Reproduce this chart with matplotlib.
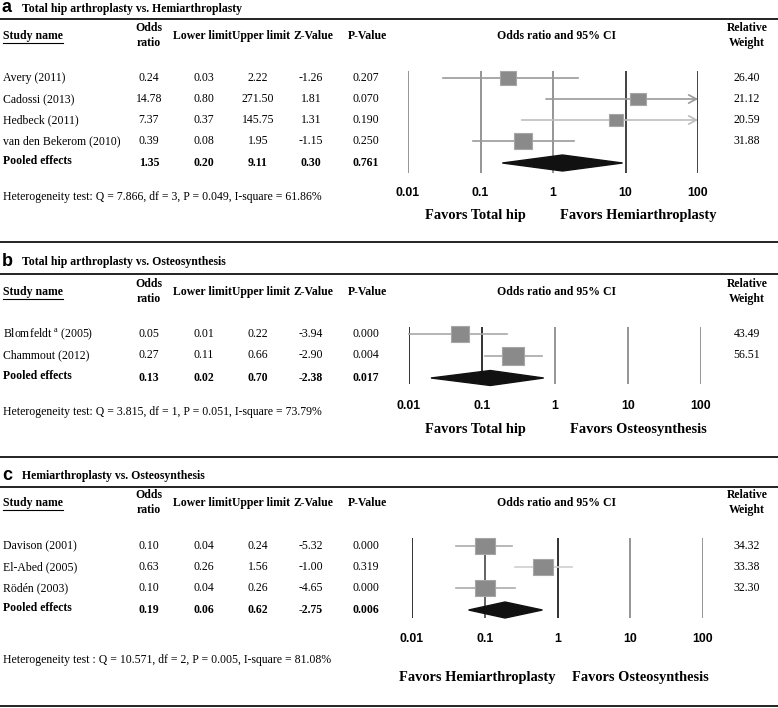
import matplotlib
matplotlib.use("Agg")
import matplotlib.pyplot as plt
import numpy as np

plt.rcParams['font.family'] = ['Liberation Serif', 'DejaVu Serif']
plt.rcParams['mathtext.fontset'] = 'custom'
plt.rcParams['mathtext.rm'] = 'Liberation Serif'
plt.rcParams['mathtext.it'] = 'Liberation Serif:italic'
plt.rcParams['mathtext.bf'] = 'Liberation Serif:bold'

# ---------------- data ----------------
tick_values = [0.01, 0.1, 1, 10, 100]
tick_labels = ['0.01', '0.1', '1', '10', '100']

# Panel a
title_a = 'Total hip arthroplasty vs. Hemiarthroplasty'
studies_a = ['Avery (2011)', 'Cadossi (2013)', 'Hedbeck (2011)', 'van den Bekerom (2010)']
or_a = [0.24, 14.78, 7.37, 0.39]
lo_a = [0.03, 0.80, 0.37, 0.08]
hi_a = [2.22, 271.50, 145.75, 1.95]
z_a = [-1.26, 1.81, 1.31, -1.15]
p_a = [0.207, 0.070, 0.190, 0.250]
w_a = [26.40, 21.12, 20.59, 31.88]
pooled_a = [1.35, 0.20, 9.11, 0.30, 0.761]
het_a = 'Heterogeneity test: Q = 7.866, df = 3, P = 0.049, I-square = 61.86%'
favors_a = ['Favors Total hip', 'Favors Hemiarthroplasty']

# Panel b
title_b = 'Total hip arthroplasty vs. Osteosynthesis'
studies_b = ['Blomfeldt $^{\\mathrm{a}}$ (2005)', 'Chammout (2012)']
or_b = [0.05, 0.27]
lo_b = [0.01, 0.11]
hi_b = [0.22, 0.66]
z_b = [-3.94, -2.90]
p_b = [0.000, 0.004]
w_b = [43.49, 56.51]
pooled_b = [0.13, 0.02, 0.70, -2.38, 0.017]
het_b = 'Heterogeneity test: Q = 3.815, df = 1, P = 0.051, I-square = 73.79%'
favors_b = ['Favors Total hip', 'Favors Osteosynthesis']

# Panel c
title_c = 'Hemiarthroplasty vs. Osteosynthesis'
studies_c = ['Davison (2001)', 'El-Abed (2005)', 'Rödén (2003)']
or_c = [0.10, 0.63, 0.10]
lo_c = [0.04, 0.26, 0.04]
hi_c = [0.24, 1.56, 0.26]
z_c = [-5.32, -1.00, -4.65]
p_c = [0.000, 0.319, 0.000]
w_c = [34.32, 33.38, 32.30]
pooled_c = [0.19, 0.06, 0.62, -2.75, 0.006]
het_c = 'Heterogeneity test : Q = 10.571, df = 2, P = 0.005, I-square = 81.08%'
favors_c = ['Favors Hemiarthroplasty', 'Favors Osteosynthesis']

# ---------------- layout / style ----------------
W, H = 778, 708
fig = plt.figure(figsize=(W / 100, H / 100), dpi=100)
bg = fig.add_axes([0, 0, 1, 1])
bg.set_xlim(0, W)
bg.set_ylim(H, 0)
bg.axis('off')

FS = 8.5
SANS = ['Liberation Sans', 'DejaVu Sans']

panels = [
    dict(letter='a', title=title_a, studies=studies_a, orv=or_a, lo=lo_a, hi=hi_a, z=z_a, p=p_a, w=w_a,
         pooled=pooled_a, het=het_a, favors=favors_a,
         top_line=None, title_y=8, rule_y=19, head_y=36, row0=78, dy=21, het_y=197,
         gx=(408, 698), gy=(71, 173), tick_y=193, fav_y=215, fav_x=(475, 638), diam_h=8, sq_k=3.3,
         grid_cols=['#8c8c8c', '#8c8c8c', '#8c8c8c', '#333333', '#333333'],
         ci_cols=['#9a9a9a', '#9a9a9a', '#bdbdbd', '#9a9a9a']),
    dict(letter='b', title=title_b, studies=studies_b, orv=or_b, lo=lo_b, hi=hi_b, z=z_b, p=p_b, w=w_b,
         pooled=pooled_b, het=het_b, favors=favors_b,
         top_line=242, title_y=261, rule_y=274, head_y=292, row0=334, dy=21.5, het_y=412,
         gx=(409, 701), gy=(327, 384), tick_y=406, fav_y=429, fav_x=(475, 638), diam_h=7.5, sq_k=2.8,
         grid_cols=['#222222', '#222222', '#8c8c8c', '#8c8c8c', '#8c8c8c'],
         ci_cols=['#a8a8a8', '#a8a8a8']),
    dict(letter='c', title=title_c, studies=studies_c, orv=or_c, lo=lo_c, hi=hi_c, z=z_c, p=p_c, w=w_c,
         pooled=pooled_c, het=het_c, favors=favors_c,
         top_line=457, title_y=475, rule_y=487, head_y=503, row0=546, dy=21, het_y=660,
         gx=(412, 703), gy=(538, 618), tick_y=639, fav_y=677, fav_x=(477, 640), diam_h=8, sq_k=3.4,
         grid_cols=['#222222', '#555555', '#222222', '#8c8c8c', '#8c8c8c'],
         ci_cols=['#ababab', '#cfcfcf', '#ababab']),
]

col_x = [149, 204, 258, 311, 366]

for P in panels:
    if P['top_line'] is not None:
        bg.plot([0, W], [P['top_line']] * 2, color='#111111', lw=1.3, solid_capstyle='butt')
    bg.plot([0, W], [P['rule_y']] * 2, color='#111111', lw=1.3, solid_capstyle='butt')
    bg.text(2, P['title_y'], P['letter'], family=SANS, fontweight='bold', fontsize=13,
            ha='left', va='center')
    bg.text(22, P['title_y'] + 1, P['title'], fontweight='bold', fontsize=FS, ha='left', va='center')

    hy = P['head_y']
    bg.text(3, hy, 'Study name', fontweight='bold', fontsize=FS, ha='left', va='center')
    bg.plot([3, 63], [hy + 6.5] * 2, color='black', lw=0.8)
    bg.text(col_x[0], hy - 8, 'Odds', fontweight='bold', fontsize=FS, ha='center', va='center')
    bg.text(col_x[0], hy + 7, 'ratio', fontweight='bold', fontsize=FS, ha='center', va='center')
    bg.text(232, hy, 'Lower limit', fontweight='bold', fontsize=FS, ha='right', va='center')
    bg.text(232, hy, 'Upper limit', fontweight='bold', fontsize=FS, ha='left', va='center')
    bg.text(313, hy, 'Z-Value', fontweight='bold', fontsize=FS, ha='center', va='center')
    bg.text(367, hy, 'P-Value', fontweight='bold', fontsize=FS, ha='center', va='center')
    bg.text(557, hy, 'Odds ratio and 95% CI', fontweight='bold', fontsize=FS, ha='center', va='center')
    bg.text(747, hy - 8, 'Relative', fontweight='bold', fontsize=FS, ha='center', va='center')
    bg.text(747, hy + 7, 'Weight', fontweight='bold', fontsize=FS, ha='center', va='center')

    n = len(P['studies'])
    rows_y = [P['row0'] + i * P['dy'] for i in range(n)]
    pooled_y = P['row0'] + n * P['dy'] + 1
    for i in range(n):
        y = rows_y[i]
        bg.text(3, y, P['studies'][i], fontsize=FS, ha='left', va='center')
        vals = ['%.2f' % P['orv'][i], '%.2f' % P['lo'][i], '%.2f' % P['hi'][i],
                '%.2f' % P['z'][i], '%.3f' % P['p'][i]]
        for cx, v in zip(col_x, vals):
            bg.text(cx, y, v, fontsize=FS, ha='center', va='center')
        bg.text(747, y, '%.2f' % P['w'][i], fontsize=FS, ha='center', va='center')
    pv = P['pooled']
    bg.text(3, pooled_y - 2, 'Pooled effects', fontweight='bold', fontsize=FS, ha='left', va='center')
    pvals = ['%.2f' % pv[0], '%.2f' % pv[1], '%.2f' % pv[2], '%.2f' % pv[3], '%.3f' % pv[4]]
    for cx, v in zip(col_x, pvals):
        bg.text(cx, pooled_y, v, fontweight='bold', fontsize=FS, ha='center', va='center')
    bg.text(3, P['het_y'], P['het'], fontsize=FS, ha='left', va='center')

    # forest axes
    x0, x1 = P['gx']
    y0, y1 = P['gy']
    ax = fig.add_axes([x0 / W, 1 - y1 / H, (x1 - x0) / W, (y1 - y0) / H])
    ax.set_xscale('log')
    ax.set_xlim(tick_values[0], tick_values[-1])
    ax.set_ylim(y1, y0)
    ax.patch.set_alpha(0)
    for s in ax.spines.values():
        s.set_visible(False)
    ax.set_yticks([])
    ax.set_xticks(tick_values)
    ax.set_xticklabels(tick_labels)
    ax.minorticks_off()
    ax.tick_params(axis='x', length=0, pad=(P['tick_y'] - y1 - 6) * 0.72)
    for lab in ax.get_xticklabels():
        lab.set_family(SANS)
        lab.set_fontweight('bold')
        lab.set_fontsize(8.8)
    for tv, c in zip(tick_values, P['grid_cols']):
        ax.axvline(tv, color=c, lw=1.3, zorder=1)

    for i in range(n):
        y = rows_y[i]
        lo, hi = P['lo'][i], P['hi'][i]
        c = P['ci_cols'][i]
        if hi > tick_values[-1]:
            ax.annotate('', xy=(tick_values[-1], y), xytext=(lo, y),
                        arrowprops=dict(arrowstyle='->,head_length=0.55,head_width=0.3',
                                        color=c, lw=1.2, shrinkA=0, shrinkB=0),
                        zorder=2, annotation_clip=False)
        else:
            ax.plot([lo, hi], [y, y], color=c, lw=1.2, zorder=2, clip_on=False)
        side = P['sq_k'] * np.sqrt(P['w'][i]) * 0.72
        ax.plot([P['orv'][i]], [y], marker=[(-1, -0.82), (1, -0.82), (1, 0.82), (-1, 0.82), (-1, -0.82)],
                markersize=side, markerfacecolor='#8a8a8a', markeredgecolor='#a6a6a6',
                markeredgewidth=0.8, zorder=3, clip_on=False)
    h = P['diam_h']
    ax.fill([pv[1], pv[0], pv[2], pv[0]], [pooled_y, pooled_y - h, pooled_y, pooled_y + h],
            color='#111111', zorder=4, clip_on=False)

    bg.text(P['fav_x'][0], P['fav_y'], P['favors'][0], fontweight='bold', fontsize=10.4, ha='center', va='center')
    bg.text(P['fav_x'][1], P['fav_y'], P['favors'][1], fontweight='bold', fontsize=10.4, ha='center', va='center')

bg.plot([0, W], [706, 706], color='#111111', lw=1.3, solid_capstyle='butt')

fig.savefig('out.png', dpi=100)
